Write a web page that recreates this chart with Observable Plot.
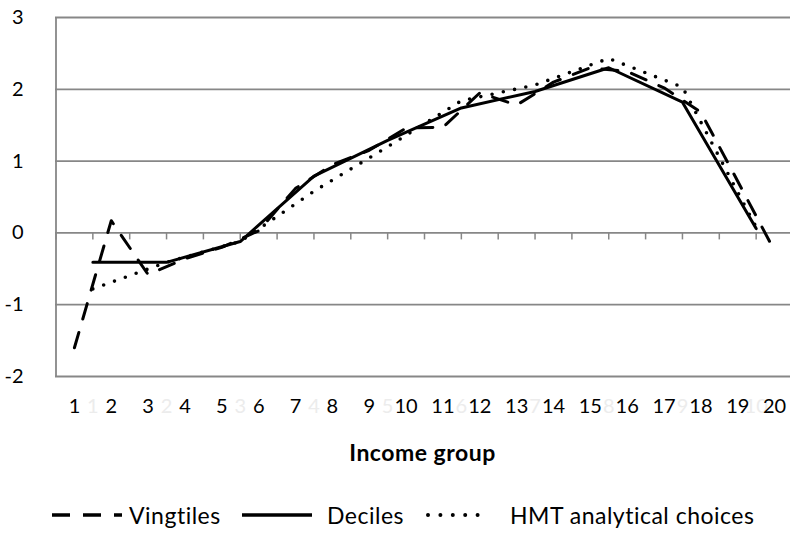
<!DOCTYPE html>
<html>
<head>
<meta charset="utf-8">
<script src="https://cdn.jsdelivr.net/npm/d3@7"></script>
<script src="https://cdn.jsdelivr.net/npm/@observablehq/plot@0.6"></script>
<style>
  body { margin: 0; background: #fff; font-family: Lato, "Liberation Sans", sans-serif; color: #000; }
  #lenzo { position: relative; width: 790px; height: 537px; overflow: hidden; background: #fff; }
  #lenzo svg.plot { position: absolute; left: 0; top: 0; }
  #titulo-x { position: absolute; left: 55px; right: 0; top: 439px; text-align: center;
              font-weight: bold; font-size: 23px; line-height: 26px; letter-spacing: 0.5px; }
  .lenda-mostra { position: absolute; top: 509px; }
  .lenda-texto { position: absolute; top: 501px; font-size: 23px; line-height: 28px;
                 letter-spacing: 0.5px; white-space: nowrap; }
</style>
</head>
<body>
<div id="lenzo"></div>
<script>
// Grupos de ingreso (vingtiles 1-20) e deciles 1-10
const categorias = [1, 2, 3, 4, 5, 6, 7, 8, 9, 10, 11, 12, 13, 14, 15, 16, 17, 18, 19, 20];
const deciles = [1, 2, 3, 4, 5, 6, 7, 8, 9, 10];

// Valores
const vingtiles = [-1.6, 0.17, -0.58, -0.36, -0.2, 0.03, 0.62, 0.95, 1.15, 1.46,
                   1.47, 1.95, 1.78, 2.1, 2.3, 2.25, 2.02, 1.68, 0.72, -0.25];
const valoresDeciles = [-0.41, -0.41, -0.12, 0.79, 1.29, 1.74, 1.97, 2.3, 1.82, 0.06];
const hmt = [-0.78, -0.41, -0.12, 0.58, 1.2, 1.84, 2.06, 2.43, 2.03, 0.08];

const yTicks = [-2, -1, 0, 1, 2, 3];

// cada decil ocupa dous vingtiles: centrado entre eles
const posDecil = (d) => 2 * d - 0.5;
const limites = [0.5, ...categorias.map((c) => c + 0.5)];

const GRIS = "#878787";
const TRAZO = "16,14";
const PUNTOS = "0,11.5";

const grafica = Plot.plot({
  width: 790,
  height: 430,
  marginLeft: 55,
  marginRight: 0,
  marginTop: 17,
  marginBottom: 54,
  x: { domain: [0.5, 20.5], range: [55.5, 792.5], axis: null },
  y: { domain: [-2, 3], range: [376, 17], axis: null },
  style: { fontFamily: "Lato, sans-serif", fontSize: "20px", overflow: "visible", background: "transparent" },
  marks: [
    Plot.ruleY(yTicks, { stroke: GRIS, strokeWidth: 1.8 }),
    Plot.ruleX([0.5], { y1: -2, y2: 3, stroke: GRIS, strokeWidth: 1.8 }),
    Plot.ruleX(limites, { y1: 0, y2: 0, insetBottom: -7, stroke: GRIS, strokeWidth: 1.5 }),
    Plot.axisY({ anchor: "left", ticks: yTicks, tickSize: 0, tickPadding: 32,
                 tickFormat: (d) => String(d), label: null, fontSize: 20, fill: "#000" }),
    // etiquetas de deciles, case invisibles
    Plot.text(deciles, { x: posDecil, text: (d) => String(d), frameAnchor: "bottom", dy: 36,
                         fill: "#ececec", fontSize: 20 }),
    Plot.text(categorias, { x: (d) => d, text: (d) => String(d), frameAnchor: "bottom", dy: 36,
                            fill: "#000", fontSize: 20 }),
    Plot.lineY(vingtiles, { x: categorias, stroke: "#000", strokeWidth: 3,
                            strokeDasharray: TRAZO, strokeLinejoin: "round" }),
    Plot.lineY(valoresDeciles, { x: deciles.map(posDecil), stroke: "#000", strokeWidth: 3,
                                 strokeLinejoin: "round" }),
    Plot.lineY(hmt, { x: deciles.map(posDecil), stroke: "#000", strokeWidth: 3.6,
                      strokeDasharray: PUNTOS, strokeLinecap: "round", strokeLinejoin: "round" })
  ]
});

const lenzo = document.getElementById("lenzo");
lenzo.appendChild(grafica);

const tit = document.createElement("div");
tit.id = "titulo-x";
tit.textContent = "Income group";
lenzo.appendChild(tit);

// lenda: mostra da liña e texto
const lendas = [
  { nome: "Vingtiles", x0: 52, x1: 122, xt: 129, dash: "18,13", cap: "butt", sw: 3.4 },
  { nome: "Deciles", x0: 242, x1: 312, xt: 327, dash: null, cap: "butt", sw: 3.4 },
  { nome: "HMT analytical choices", x0: 426, x1: 488, xt: 510, dash: "0,12.4", cap: "round", sw: 4 }
];
for (const l of lendas) {
  const m = document.createElement("div");
  m.className = "lenda-mostra";
  m.style.left = l.x0 + "px";
  const w = l.x1 - l.x0;
  const dashAttr = l.dash ? `stroke-dasharray="${l.dash}"` : "";
  const a = l.cap === "round" ? 2 : 0;
  m.innerHTML = `<svg width="${w + 4}" height="12" style="display:block"><line x1="${a}" x2="${w}" y1="6" y2="6" stroke="#000" stroke-width="${l.sw}" stroke-linecap="${l.cap}" ${dashAttr}/></svg>`;
  lenzo.appendChild(m);
  const t = document.createElement("div");
  t.className = "lenda-texto";
  t.style.left = l.xt + "px";
  t.textContent = l.nome;
  lenzo.appendChild(t);
}
</script>
</body>
</html>
